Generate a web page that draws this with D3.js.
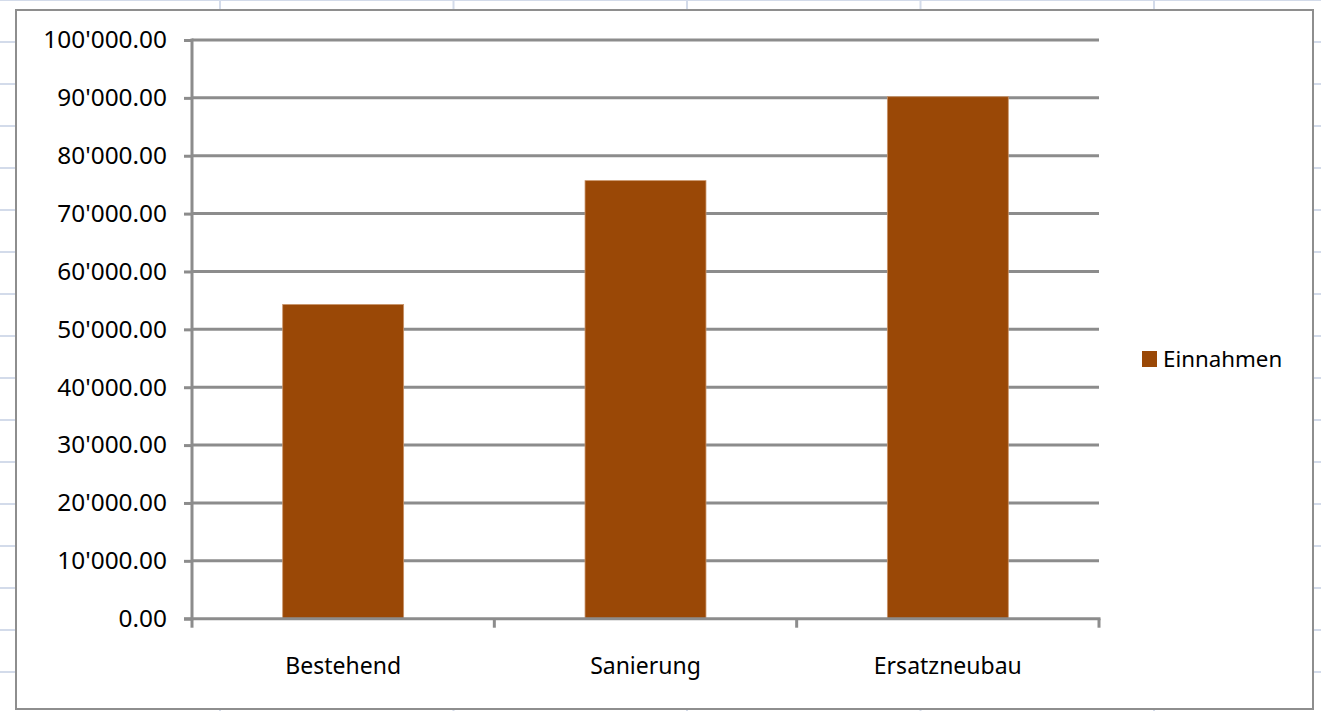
<!DOCTYPE html>
<html>
<head>
<meta charset="utf-8">
<script src="https://cdn.jsdelivr.net/npm/d3@7"></script>
<style>
  html, body { margin: 0; padding: 0; background: #fff; }
  svg { display: block; }
  text { font-family: "Noto Sans", "Open Sans", sans-serif; fill: #000; }
</style>
</head>
<body>
<svg id="chart"></svg>
<script>
// chart data
var categories = ["Bestehend", "Sanierung", "Ersatzneubau"];
var einnahmen = [54300, 75700, 90200];
var seriesName = "Einnahmen";
var yTicks = [0, 10000, 20000, 30000, 40000, 50000, 60000, 70000, 80000, 90000, 100000];

var width = 1321, height = 711;
var svg = d3.select("#chart").attr("width", width).attr("height", height);

// spreadsheet cells behind the chart object
var sheetCols = d3.range(220, width, 233.5);
var sheetRows = d3.range(0, height, 42);
svg.append("g").selectAll("line.col").data(sheetCols).join("line")
    .attr("x1", d => d).attr("x2", d => d).attr("y1", 0).attr("y2", height)
    .attr("stroke", "#d3dbea").attr("stroke-width", 2);
svg.append("g").selectAll("line.row").data(sheetRows).join("line")
    .attr("x1", 0).attr("x2", width).attr("y1", d => d).attr("y2", d => d)
    .attr("stroke", "#d3dbea").attr("stroke-width", 2);

// chart frame
svg.append("rect")
    .attr("x", 16).attr("y", 10).attr("width", 1297).attr("height", 699)
    .attr("fill", "#fff").attr("stroke", "#8e8e8e").attr("stroke-width", 2);

var plotL = 192, plotR = 1099, plotT = 40, plotB = 618.7;

var x = d3.scaleBand().domain(categories).range([plotL, plotR]).paddingInner(0.6).paddingOuter(0.3);
var xBand = d3.scaleBand().domain(categories).range([plotL, plotR]);
var y = d3.scaleLinear().domain([0, 100000]).range([plotB, plotT]);

var fmt = function(v) {
  return d3.format(",.2f")(v).replace(/,/g, "'");
};

// gridlines
svg.append("g").selectAll("line").data(yTicks.slice(1)).join("line")
    .attr("x1", plotL).attr("x2", plotR)
    .attr("y1", d => y(d)).attr("y2", d => y(d))
    .attr("stroke", "#8c8c8c").attr("stroke-width", 3);

// bars
svg.append("g").selectAll("rect").data(categories).join("rect")
    .attr("x", d => x(d))
    .attr("y", (d, i) => y(einnahmen[i]))
    .attr("width", x.bandwidth())
    .attr("height", (d, i) => y(0) - y(einnahmen[i]))
    .attr("fill", "#9a4806")
    .attr("stroke", "#c9946a").attr("stroke-width", 0.8);

// y axis
var yAxis = svg.append("g").attr("transform", "translate(" + plotL + ",0)")
    .call(d3.axisLeft(y).tickValues(yTicks).tickFormat(fmt).tickSize(8).tickPadding(17));
yAxis.select(".domain").attr("stroke", "#8c8c8c").attr("stroke-width", 3).attr("d", "M0," + (plotB + 1.5) + "V" + (plotT - 1.5));
yAxis.selectAll(".tick line").attr("stroke", "#8c8c8c").attr("stroke-width", 3);
yAxis.selectAll(".tick text").style("font-size", "24.4px").attr("fill", "#000");

// x axis
var xAxis = svg.append("g").attr("transform", "translate(0," + plotB + ")");
xAxis.append("line")
    .attr("x1", plotL - 8).attr("x2", plotR + 1.5).attr("y1", 0).attr("y2", 0)
    .attr("stroke", "#8c8c8c").attr("stroke-width", 3);
var xTickPos = categories.map(d => xBand(d)).concat([plotR]);
xAxis.selectAll("line.tk").data(xTickPos).join("line")
    .attr("x1", d => d).attr("x2", d => d).attr("y1", 0).attr("y2", 9)
    .attr("stroke", "#8c8c8c").attr("stroke-width", 3);
xAxis.selectAll("text").data(categories).join("text")
    .attr("x", d => xBand(d) + xBand.bandwidth() / 2)
    .attr("y", 55)
    .attr("text-anchor", "middle")
    .style("font-size", "23px")
    .text(d => d);

// legend
var legend = svg.append("g").attr("transform", "translate(1142,351)");
legend.append("rect").attr("width", 15).attr("height", 16).attr("fill", "#9a4806");
legend.append("text").attr("x", 21).attr("y", 16).style("font-size", "22.3px").text(seriesName);
</script>
</body>
</html>
